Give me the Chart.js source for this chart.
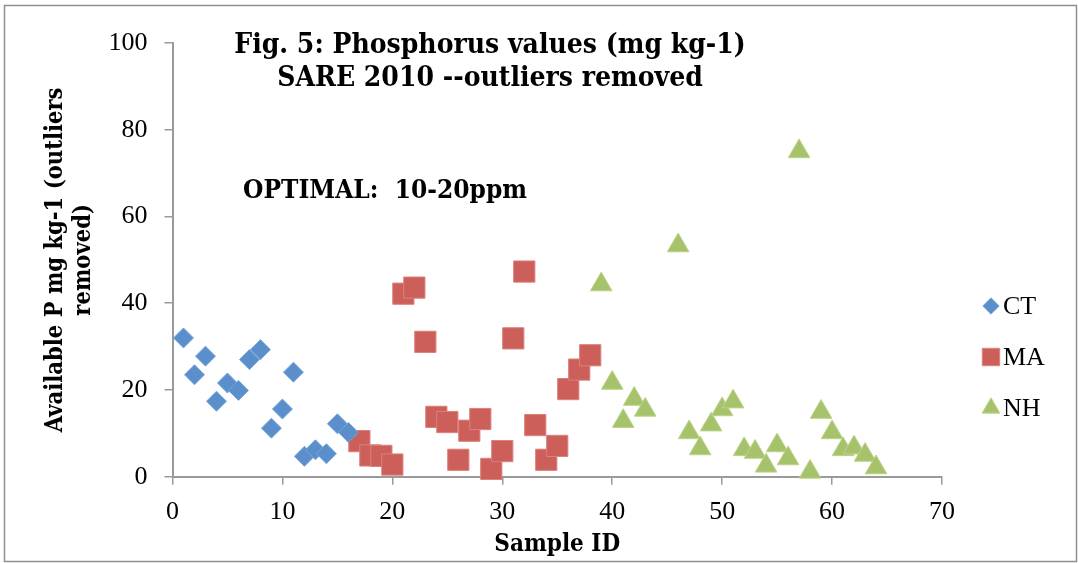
<!DOCTYPE html>
<html>
<head>
<meta charset="utf-8">
<script src="https://cdn.jsdelivr.net/npm/chart.js@4.4.1/dist/chart.umd.min.js"></script>
<style>
  html, body { margin: 0; padding: 0; background: #fff; }
  #wrap { width: 1078px; height: 563px; }
</style>
</head>
<body>
<div id="wrap"><canvas id="scatter" width="1078" height="563"></canvas></div>
<script>
// sample id / available P (mg kg-1)
const ctIds = [1, 2, 3, 4, 5, 6, 7, 8, 9, 10, 11, 12, 13, 14, 15, 16];
const ctP = [32, 23.5, 27.8, 17.4, 21.6, 19.9, 27, 29.3, 11.2, 15.6, 24.1, 4.7, 6.2, 5.3, 12.2, 10.2];

const maIds = [17, 18, 19, 20, 21, 22, 23, 24, 25, 26, 27, 28, 29, 30, 31, 32, 33, 34, 35, 36, 37, 38];
const maP = [8.2, 4.9, 4.8, 2.8, 42.2, 43.6, 31.1, 13.8, 12.6, 3.9, 10.6, 13.3, 1.8, 5.9, 31.9, 47.3, 11.9, 3.9, 7.1, 20.2, 24.7, 28];

const nhIds = [39, 40, 41, 42, 43, 46, 47, 48, 49, 50, 51, 52, 53, 54, 55, 56, 57, 58, 59, 60, 61, 62, 63, 64];
const nhP = [44.3, 21.6, 12.8, 17.9, 15.4, 53.3, 10.2, 6.5, 12, 15.5, 17.3, 6.3, 5.7, 2.5, 7.2, 4.2, 75, 1.1, 14.9, 10.2, 6.3, 6.7, 5, 2.1];

const xTicks = [0, 10, 20, 30, 40, 50, 60, 70];
const yTicks = [0, 20, 40, 60, 80, 100];

const titleLines = ['Fig. 5: Phosphorus values (mg kg-1)', 'SARE 2010 --outliers removed'];
const note = 'OPTIMAL:  10-20ppm';

const SERIF = '"Liberation Serif", "DejaVu Serif", serif';
const BOLD = '"DejaVu Serif Condensed", "DejaVu Serif", serif';
const AXIS = '#9a9a9a';

function pts(xs, ys) {
  return xs.map((x, i) => ({ x: x, y: ys[i] }));
}

const series = [
  { label: 'CT', data: pts(ctIds, ctP), style: 'rectRot', r: 10, color: '#5a8fcb', edge: '#7aa6d8' },
  { label: 'MA', data: pts(maIds, maP), style: 'rect', r: 15, color: '#cd5f5a', edge: '#dc817c' },
  { label: 'NH', data: pts(nhIds, nhP), style: 'triangle', r: 12.5, color: '#a6c36b', edge: '#bcd38c' }
];

// title, note, legend and outer frame
const decor = {
  id: 'decor',
  afterDraw(chart) {
    const ctx = chart.ctx;
    ctx.save();
    ctx.strokeStyle = '#8f8f8f';
    ctx.lineWidth = 1.5;
    ctx.strokeRect(4.5, 5.5, 1072, 556);

    ctx.fillStyle = '#000';
    ctx.textAlign = 'center';
    ctx.textBaseline = 'middle';
    ctx.font = 'bold 28px ' + BOLD;
    ctx.fillText(titleLines[0], 490, 46);
    ctx.fillText(titleLines[1], 490, 79);

    ctx.textAlign = 'left';
    ctx.font = 'bold 26px ' + BOLD;
    ctx.fillText(note, 243, 191);

    const rows = [306, 357, 408];
    ctx.font = '26px ' + SERIF;
    series.forEach((s, i) => {
      ctx.fillStyle = s.color;
      ctx.strokeStyle = s.edge;
      ctx.lineWidth = 1;
      Chart.helpers.drawPoint(ctx, { pointStyle: s.style, radius: s.r * 0.82, rotation: 0, borderWidth: 1 }, 991, rows[i]);
      ctx.fillStyle = '#000';
      ctx.fillText(s.label, 1003, rows[i] + 1);
    });
    ctx.restore();
  }
};

new Chart(document.getElementById('scatter'), {
  type: 'scatter',
  data: {
    datasets: series.map(s => ({
      label: s.label,
      data: s.data,
      pointStyle: s.style,
      pointRadius: s.r,
      pointHoverRadius: s.r,
      backgroundColor: s.color,
      borderColor: s.edge,
      borderWidth: 1,
      clip: false
    }))
  },
  options: {
    responsive: false,
    animation: false,
    layout: { padding: { left: 10, top: 43, right: 136, bottom: 0 } },
    plugins: { legend: { display: false }, tooltip: { enabled: false }, title: { display: false } },
    scales: {
      x: {
        type: 'linear',
        min: 0,
        max: 70,
        afterFit(s) { s.height = 86.3; },
        afterBuildTicks(s) { s.ticks = xTicks.map(v => ({ value: v })); },
        ticks: { color: '#000', padding: 12, font: { family: SERIF, size: 26 } },
        grid: { drawOnChartArea: false, drawTicks: true, tickLength: 8, color: AXIS, lineWidth: 1.5 },
        border: { display: true, color: AXIS, width: 2 },
        title: { display: true, text: 'Sample ID', color: '#000', padding: { top: 0, bottom: 4 }, font: { family: BOLD, size: 24, weight: 'bold' } }
      },
      y: {
        type: 'linear',
        min: 0,
        max: 100,
        afterFit(s) { s.width = 162.5; },
        afterBuildTicks(s) { s.ticks = yTicks.map(v => ({ value: v })); },
        ticks: { color: '#000', padding: 17, font: { family: SERIF, size: 26 } },
        grid: { drawOnChartArea: false, drawTicks: true, tickLength: 8, color: AXIS, lineWidth: 1.5 },
        border: { display: true, color: AXIS, width: 2 },
        title: {
          display: true,
          text: ['Available P mg kg-1 (outliers', 'removed)'],
          color: '#000',
          padding: { top: 32, bottom: 0 },
          font: { family: BOLD, size: 23.5, weight: 'bold', lineHeight: 1.2 }
        }
      }
    }
  },
  plugins: [decor]
});
</script>
</body>
</html>
